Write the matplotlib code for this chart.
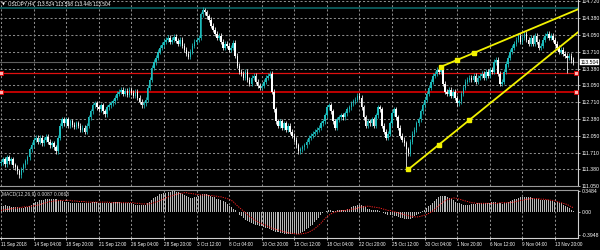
import numpy as np
import matplotlib
matplotlib.use('Agg')
from matplotlib import pyplot as plt
from matplotlib import rcParams

rcParams['font.family'] = ['Liberation Sans', 'DejaVu Sans']

# USDJPY H4 closes (one per bar, left to right)
closes = [
    111.52, 111.58, 111.48, 111.62, 111.54, 111.58, 111.46, 111.42, 111.34, 111.26,
    111.38, 111.46, 111.54, 111.62, 111.78, 111.87, 111.97, 112.01, 111.93, 112.01,
    111.90, 111.97, 112.03, 111.93, 111.86, 111.90, 111.82, 111.74, 112.01, 112.25,
    112.37, 112.29, 112.37, 112.25, 112.33, 112.27, 112.23, 112.29, 112.25, 112.17,
    112.21, 112.13, 112.25, 112.41, 112.53, 112.65, 112.69, 112.61, 112.57, 112.65,
    112.53, 112.47, 112.61, 112.65, 112.69, 112.73, 112.80, 112.88, 112.92, 112.96,
    112.88, 112.94, 112.86, 112.96, 112.90, 112.84, 112.92, 112.80, 112.72, 112.65,
    112.69, 112.76, 113.00, 113.16, 113.40, 113.51, 113.59, 113.71, 113.79, 113.85,
    113.91, 113.95, 113.99, 113.91, 113.95, 114.01, 113.93, 113.87, 113.95, 113.83,
    113.75, 113.67, 113.61, 113.71, 113.83, 113.91, 113.95, 113.99, 114.46, 114.54,
    114.50, 114.42, 114.35, 114.23, 114.15, 114.07, 113.99, 114.03, 113.91, 113.79,
    113.87, 113.83, 113.75, 113.79, 113.89, 113.63, 113.44, 113.32, 113.28, 113.20,
    113.32, 113.16, 113.08, 113.20, 113.24, 113.12, 113.04, 113.00, 113.04, 113.12,
    113.20, 113.24, 113.28, 112.92, 112.57, 112.33, 112.25, 112.33, 112.21, 112.29,
    112.17, 112.25, 112.13, 112.05, 111.97, 111.86, 111.74, 111.78, 111.82, 111.86,
    111.93, 112.01, 112.05, 112.09, 112.13, 112.17, 112.21, 112.29, 112.33, 112.45,
    112.61, 112.65, 112.53, 112.33, 112.21, 112.37, 112.41, 112.45, 112.41, 112.49,
    112.57, 112.61, 112.69, 112.73, 112.76, 112.84, 112.80, 112.61, 112.41, 112.25,
    112.33, 112.29, 112.37, 112.25, 112.45, 112.61, 112.57, 112.25, 112.13, 112.01,
    112.09, 112.29, 112.49, 112.57, 112.41, 112.21, 112.05, 111.97, 111.90, 111.78,
    111.70, 111.93, 112.09, 112.17, 112.29, 112.37, 112.53, 112.65, 112.76, 112.88,
    113.00, 113.12, 113.24, 113.28, 113.36, 113.32, 113.40, 113.08, 112.92, 112.88,
    112.96, 112.84, 112.92, 112.80, 112.69, 112.73, 112.88, 113.00, 113.12, 113.16,
    113.20, 113.16, 113.24, 113.12, 113.20, 113.24, 113.28, 113.20, 113.32, 113.24,
    113.36, 113.32, 113.51, 113.55, 113.28, 113.08, 113.12, 113.32, 113.47, 113.59,
    113.71, 113.79, 113.87, 113.95, 114.03, 113.91, 113.99, 114.07, 113.95, 113.87,
    113.99, 113.87, 114.03, 113.91, 113.79, 113.83, 113.95, 114.03, 114.07, 113.99,
    114.03, 113.95, 113.87, 113.79, 113.71, 113.75, 113.67, 113.63, 113.59, 113.63,
    113.55, 113.504,
]
first_open = 111.50
wick_highs = {99: 114.60}
wick_lows = {199: 111.38, 278: 113.30}

# MACD(12,26,9): main (histogram) and signal (dotted)
macd_main = [
    0.10, 0.10, 0.11, 0.10, 0.09, 0.08, 0.08, 0.07, 0.07, 0.06,
    0.06, 0.06, 0.07, 0.08, 0.10, 0.12, 0.14, 0.16, 0.17, 0.19,
    0.20, 0.20, 0.21, 0.21, 0.22, 0.22, 0.21, 0.21, 0.20, 0.19,
    0.18, 0.17, 0.16, 0.16, 0.15, 0.15, 0.15, 0.14, 0.14, 0.14,
    0.14, 0.14, 0.15, 0.15, 0.15, 0.16, 0.16, 0.16, 0.15, 0.15,
    0.15, 0.15, 0.15, 0.15, 0.15, 0.16, 0.16, 0.16, 0.16, 0.15,
    0.15, 0.15, 0.14, 0.14, 0.14, 0.13, 0.12, 0.12, 0.11, 0.11,
    0.11, 0.12, 0.14, 0.17, 0.20, 0.23, 0.25, 0.27, 0.29, 0.30,
    0.31, 0.32, 0.33, 0.33, 0.34, 0.34, 0.33, 0.33, 0.32, 0.30,
    0.28, 0.26, 0.24, 0.23, 0.23, 0.24, 0.25, 0.26, 0.28, 0.29,
    0.29, 0.29, 0.28, 0.27, 0.25, 0.24, 0.22, 0.21, 0.20, 0.18,
    0.16, 0.13, 0.10, 0.07, 0.05, 0.02, -0.01, -0.05, -0.08, -0.11,
    -0.14, -0.16, -0.18, -0.20, -0.21, -0.22, -0.23, -0.24, -0.25, -0.26,
    -0.27, -0.28, -0.29, -0.31, -0.33, -0.34, -0.35, -0.36, -0.36, -0.37,
    -0.37, -0.38, -0.38, -0.38, -0.38, -0.37, -0.37, -0.36, -0.34, -0.32,
    -0.30, -0.28, -0.25, -0.22, -0.18, -0.14, -0.10, -0.06, -0.03, -0.01,
    0.01, 0.02, 0.02, 0.01, 0.01, 0.02, 0.02, 0.03, 0.03, 0.03,
    0.04, 0.05, 0.07, 0.09, 0.10, 0.12, 0.12, 0.11, 0.09, 0.07,
    0.05, 0.04, 0.03, 0.03, 0.03, 0.02, 0.01, 0.00, -0.02, -0.04,
    -0.05, -0.05, -0.06, -0.07, -0.08, -0.09, -0.10, -0.11, -0.12, -0.13,
    -0.13, -0.12, -0.10, -0.08, -0.06, -0.04, -0.02, 0.01, 0.03, 0.06,
    0.09, 0.12, 0.15, 0.18, 0.21, 0.24, 0.26, 0.27, 0.26, 0.25,
    0.23, 0.21, 0.19, 0.17, 0.15, 0.14, 0.13, 0.12, 0.12, 0.12,
    0.12, 0.13, 0.13, 0.13, 0.14, 0.14, 0.14, 0.14, 0.15, 0.15,
    0.15, 0.16, 0.16, 0.16, 0.15, 0.14, 0.13, 0.14, 0.15, 0.16,
    0.18, 0.19, 0.21, 0.22, 0.23, 0.24, 0.25, 0.25, 0.25, 0.24,
    0.24, 0.23, 0.22, 0.22, 0.21, 0.20, 0.20, 0.19, 0.19, 0.19,
    0.18, 0.18, 0.17, 0.16, 0.15, 0.14, 0.12, 0.10, 0.08, 0.06,
    0.03, 0.0087,
]
macd_signal = [
    0.02, 0.03, 0.03, 0.04, 0.04, 0.05, 0.05, 0.06, 0.06, 0.07,
    0.07, 0.08, 0.08, 0.08, 0.09, 0.09, 0.10, 0.10, 0.11, 0.12,
    0.13, 0.14, 0.15, 0.16, 0.17, 0.17, 0.18, 0.18, 0.19, 0.19,
    0.19, 0.19, 0.19, 0.19, 0.19, 0.18, 0.18, 0.18, 0.17, 0.17,
    0.17, 0.17, 0.16, 0.16, 0.16, 0.16, 0.16, 0.16, 0.16, 0.16,
    0.16, 0.16, 0.16, 0.16, 0.15, 0.15, 0.15, 0.15, 0.15, 0.15,
    0.15, 0.15, 0.15, 0.15, 0.15, 0.15, 0.14, 0.14, 0.14, 0.13,
    0.13, 0.13, 0.13, 0.13, 0.14, 0.15, 0.16, 0.17, 0.19, 0.20,
    0.22, 0.23, 0.25, 0.26, 0.27, 0.28, 0.29, 0.30, 0.31, 0.31,
    0.32, 0.32, 0.31, 0.31, 0.30, 0.30, 0.29, 0.29, 0.28, 0.28,
    0.28, 0.28, 0.27, 0.27, 0.27, 0.26, 0.26, 0.25, 0.25, 0.24,
    0.23, 0.22, 0.21, 0.19, 0.17, 0.13, 0.10, 0.07, 0.04, 0.01,
    -0.02, -0.05, -0.08, -0.10, -0.13, -0.15, -0.17, -0.19, -0.20, -0.22,
    -0.23, -0.25, -0.26, -0.28, -0.29, -0.30, -0.31, -0.32, -0.33, -0.34,
    -0.35, -0.36, -0.36, -0.37, -0.37, -0.38, -0.38, -0.38, -0.37, -0.37,
    -0.36, -0.35, -0.33, -0.31, -0.29, -0.26, -0.23, -0.20, -0.16, -0.12,
    -0.09, -0.06, -0.04, -0.02, -0.01, 0.00, 0.01, 0.01, 0.02, 0.02,
    0.03, 0.03, 0.04, 0.04, 0.05, 0.06, 0.07, 0.08, 0.08, 0.09,
    0.09, 0.09, 0.08, 0.08, 0.07, 0.07, 0.06, 0.05, 0.04, 0.03,
    0.02, 0.02, 0.01, 0.00, -0.01, -0.02, -0.03, -0.04, -0.05, -0.06,
    -0.07, -0.08, -0.08, -0.09, -0.09, -0.09, -0.08, -0.07, -0.06, -0.05,
    -0.03, -0.01, 0.01, 0.04, 0.07, 0.10, 0.13, 0.16, 0.18, 0.20,
    0.21, 0.22, 0.23, 0.23, 0.22, 0.21, 0.20, 0.19, 0.18, 0.17,
    0.16, 0.15, 0.15, 0.14, 0.14, 0.14, 0.14, 0.14, 0.14, 0.14,
    0.14, 0.14, 0.14, 0.14, 0.14, 0.15, 0.15, 0.15, 0.15, 0.15,
    0.15, 0.16, 0.16, 0.17, 0.18, 0.19, 0.19, 0.20, 0.21, 0.21,
    0.22, 0.22, 0.22, 0.22, 0.22, 0.21, 0.21, 0.21, 0.20, 0.20,
    0.19, 0.19, 0.18, 0.17, 0.16, 0.15, 0.14, 0.13, 0.12, 0.10,
    0.08, 0.0668,
]

price_ticks = [114.720, 114.380, 114.050, 113.710, 113.380, 113.050,
               112.710, 112.380, 112.050, 111.710, 111.380, 111.050]
macd_ticks = [0.3484, 0.0, -0.3948]
macd_tick_labels = ['0.3484', '0.00', '-0.3948']
date_labels = ['11 Sep 2018', '14 Sep 04:00', '18 Sep 20:00', '21 Sep 12:00',
               '26 Sep 04:00', '28 Sep 20:00', '3 Oct 12:00', '8 Oct 04:00',
               '10 Oct 20:00', '15 Oct 12:00', '18 Oct 04:00', '22 Oct 20:00',
               '25 Oct 12:00', '30 Oct 04:00', '1 Nov 20:00', '6 Nov 12:00',
               '9 Nov 04:00', '13 Nov 20:00']
bars_per_label = 16

red_levels = [113.30, 112.92]
teal_level = 114.58
bid = 113.504
# trendlines: (bar, price) at start, middle, end anchors
upper_trend = [(216, 113.416), (224, 113.552), (232, 113.687)]
lower_trend = [(200, 111.38), (215, 111.87), (230, 112.36)]

header = 'USDJPY,H4  113.524 113.568 113.448 113.504'
macd_header = 'MACD(12,26,9) 0.0087 0.0668'

# ---------------------------------------------------------------
BG = 'black'
FG = 'white'
GRID = '#8a8a8a'
BULL = '#1cbcbc'
BEAR = 'white'
FS = 3.7
FS_DATE = 3.3

n = len(closes)
idx = np.arange(n)
c = np.array(closes)
o = np.array([first_open] + closes[:-1])
hi = np.maximum(o, c) + 0.05
lo = np.minimum(o, c) - 0.05
for k, v in wick_highs.items():
    hi[k] = v
for k, v in wick_lows.items():
    lo[k] = v
cols = [BULL if cc >= oo else BEAR for oo, cc in zip(o, c)]

xmax = 283.3
label_pos = [i * bars_per_label for i in range(len(date_labels))]

fig = plt.figure(figsize=(6, 2.5), dpi=100, facecolor=BG)
ax = fig.add_axes([0, 1 - 186 / 250, 578 / 600, 186 / 250], facecolor=BG)
axm = fig.add_axes([0, 1 - 238 / 250, 578 / 600, 48 / 250], facecolor=BG, sharex=ax)

# grid (MT4 dotted grid)
gstyle = dict(color=GRID, lw=0.75, ls=(0, (2, 2)), zorder=1)
for p in price_ticks:
    ax.axhline(p, **gstyle)
for xp in label_pos:
    ax.axvline(xp, **gstyle)
    axm.axvline(xp, **gstyle)

# horizontal objects
ax.axhline(teal_level, color='#0b5c5c', lw=1.3, zorder=1.5)
ax.axhline(bid, color='#5e5e5e', lw=0.8, zorder=1.5)
ax.axhline(red_levels[0], color='#e01010', lw=0.9, zorder=1.5)
ax.axhline(red_levels[1], color='#c00000', lw=1.4, zorder=1.5)
for lvl in red_levels:
    ax.plot([0.002, 0.997], [lvl, lvl], ls='none', marker='s', ms=2.2,
            mfc='#ffb0b0', mec='#e00000', mew=0.6,
            transform=ax.get_yaxis_transform(), zorder=5, clip_on=False)

# candles
ax.vlines(idx, lo, hi, colors=cols, lw=0.55, zorder=2)
body = np.maximum(np.abs(c - o), 0.012)
ax.bar(idx, body, bottom=np.minimum(o, c), width=0.75, color=cols, lw=0, zorder=3)

# trendlines (rays to the right edge)
for pts in (upper_trend, lower_trend):
    (x0, y0), _, (x1, y1) = pts
    slope = (y1 - y0) / (x1 - x0)
    ax.plot([x0, xmax], [y0, y0 + slope * (xmax - x0)], color='#f2f200', lw=1.3, zorder=4)
    ax.plot([p[0] for p in pts], [p[1] for p in pts], ls='none', marker='s',
            ms=2.6, color='#f2f200', zorder=5)

ax.set_xlim(-0.5, xmax)
ax.set_ylim(111.065, 114.74)
ax.yaxis.tick_right()
ax.set_yticks(price_ticks)
ax.set_yticklabels(['%.3f' % p for p in price_ticks])
ax.tick_params(axis='y', colors=FG, labelsize=FS, length=1.5, width=0.5, pad=1.2)
ax.tick_params(axis='x', bottom=False, labelbottom=False)
for s in ['left', 'top']:
    ax.spines[s].set_visible(False)
ax.spines['right'].set_color('#d0d0d0')
ax.spines['right'].set_linewidth(0.8)
ax.spines['bottom'].set_color('#9a9a9a')
ax.spines['bottom'].set_linewidth(0.8)

# current price box
ax.text(1.004, bid, '%.3f' % bid, transform=ax.get_yaxis_transform(),
        fontsize=FS, color='black', va='center', ha='left',
        bbox=dict(boxstyle='square,pad=0.12', fc='white', ec='white', lw=0.3),
        clip_on=False, zorder=6)

ax.text(0.004, 0.978, '\u25bc', transform=ax.transAxes, fontsize=2.8, color=FG,
        va='center', ha='left', family='DejaVu Sans')
ax.text(0.014, 0.978, header, transform=ax.transAxes, fontsize=3.5, color=FG,
        va='center', ha='left')

# MACD panel
axm.bar(idx, macd_main, width=0.5, color='#b8b8b8', lw=0, zorder=2)
axm.plot(idx, macd_signal, color='#ff2020', lw=0.7, ls=(0, (1.2, 1.2)), zorder=3)
axm.set_ylim(-0.446, 0.365)
axm.yaxis.tick_right()
axm.set_yticks(macd_ticks)
axm.set_yticklabels(macd_tick_labels)
axm.tick_params(axis='y', colors=FG, labelsize=FS, length=1.5, width=0.5, pad=1.2)
axm.set_xticks(label_pos)
axm.set_xticklabels(date_labels, ha='left')
axm.tick_params(axis='x', colors=FG, labelsize=FS_DATE, length=1.5, width=0.5, pad=1.5)
axm.spines['left'].set_visible(False)
axm.spines['top'].set_color('#9a9a9a')
axm.spines['top'].set_linewidth(0.8)
for s in ['right', 'bottom']:
    axm.spines[s].set_color('#d0d0d0')
    axm.spines[s].set_linewidth(0.8)
axm.text(0.004, 0.9, macd_header, transform=axm.transAxes, fontsize=3.5,
         color='#d8d8d8', va='center', ha='left')

plt.savefig('out.png', dpi=100, facecolor=BG)
